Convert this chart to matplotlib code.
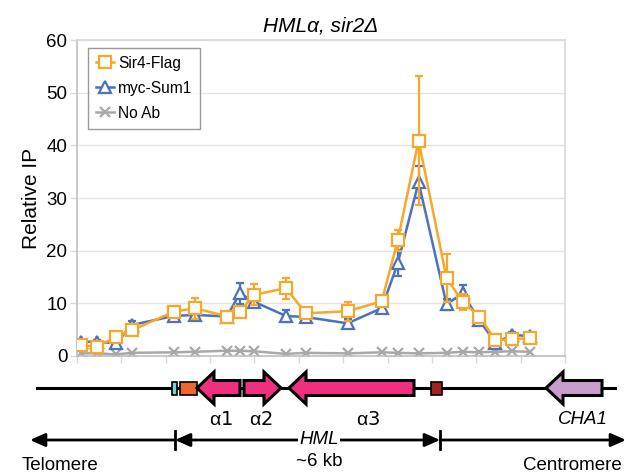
import matplotlib
matplotlib.use("Agg")
import matplotlib.pyplot as plt
from matplotlib.patches import Polygon, Rectangle
from matplotlib.lines import Line2D

plt.rcParams['font.family'] = ['Liberation Sans', 'DejaVu Sans']

# Probe positions along the locus (kb from the left end of the map)
positions = [0.09, 0.45, 0.88, 1.24, 2.18, 2.66, 3.38, 3.67, 3.99, 4.71, 5.16,
             6.10, 6.87, 7.23, 7.70, 8.33, 8.69, 9.07, 9.43, 9.81, 10.20]

sir4_flag = [2.0, 1.8, 3.6, 4.9, 8.4, 9.1, 7.5, 8.4, 11.6, 12.9, 8.1,
             8.5, 10.4, 22.0, 40.9, 14.8, 10.3, 7.5, 3.0, 3.2, 3.4]
sir4_err = [0.3, 0.3, 0.5, 0.5, 1.0, 2.0, 0.5, 0.5, 2.0, 2.0, 0.5,
            1.8, 1.0, 2.0, 12.3, 4.5, 1.5, 1.0, 0.5, 0.5, 0.5]

myc_sum1 = [2.7, 2.7, 2.4, 5.9, 7.6, 7.8, 7.5, 11.9, 10.3, 7.6, 7.4,
            6.2, 9.1, 17.6, 33.0, 9.8, 11.9, 6.8, 2.5, 4.0, 3.8]
sum1_err = [0.3, 0.3, 0.3, 0.8, 0.5, 0.5, 0.5, 2.0, 0.5, 1.2, 0.5,
            0.8, 0.5, 2.5, 3.0, 1.0, 1.5, 0.8, 0.5, 0.5, 0.5]

no_ab = [0.5, 0.5, 0.3, 0.6, 0.7, 0.8, 1.0, 1.0, 0.9, 0.4, 0.6,
         0.5, 0.7, 0.6, 0.5, 0.6, 0.8, 0.7, 0.8, 0.9, 0.8]

series_names = ['Sir4-Flag', 'myc-Sum1', 'No Ab']
colors = ['#F7A82A', '#4A72C0', '#A8A8A8']
markers = ['s', '^', 'x']

y_ticks = [0, 10, 20, 30, 40, 50, 60]
x_ticks = list(range(0, 12))

# Genetic map features (map coordinates in figure pixels)
genes = [
    # name, tail, tip, color
    ('α1', 240, 197, '#F0307F'),
    ('α2', 244, 281, '#F0307F'),
    ('α3', 414, 289, '#F0307F'),
    ('CHA1', 602, 546, '#C89CCB'),
]
gene_labels = [('α', '1', 221), ('α', '2', 261), ('α', '3', 368)]
boxes = [(172, 177, '#7FCFD0'), (180, 197, '#EE6630'), (431, 442, '#A52222')]

fig = plt.figure(figsize=(6.31, 4.74), dpi=100)
ax = fig.add_axes([77 / 631, 1 - 356 / 474, (565 - 77) / 631, (356 - 40) / 474])

grid_c = '#D9D9D9'
handles = []
for i, (name, vals, err) in enumerate(zip(series_names, [sir4_flag, myc_sum1, no_ab],
                                          [sir4_err, sum1_err, None])):
    c, m = colors[i], markers[i]
    style = dict(color=c, lw=1.8, marker=m, markersize=8 if m != 'x' else 7,
                 markerfacecolor='white' if m != 'x' else c,
                 markeredgewidth=1.6, markeredgecolor=c)
    ax.errorbar(positions, vals, yerr=err, capsize=3, elinewidth=1.6,
                capthick=1.6, zorder=3 - i, **style)
    handles.append(Line2D([], [], label=name, **style))

ax.set_xlim(0, 11)
ax.set_ylim(0, 60)
ax.set_yticks(y_ticks)
ax.set_xticks(x_ticks)
ax.set_xticklabels([])
ax.tick_params(axis='x', length=5, color=grid_c, width=1)
ax.tick_params(axis='y', length=5, color=grid_c, width=1, labelsize=13.5, pad=2)
ax.grid(axis='y', color='#E4E4E4', lw=1)
ax.set_axisbelow(True)
for s in ax.spines.values():
    s.set_color(grid_c)
    s.set_linewidth(1.2)
ax.spines['left'].set_color('#BFBFBF')
ax.spines['bottom'].set_color('#BFBFBF')
ax.set_ylabel('Relative IP', fontsize=15, labelpad=4)
ax.set_title('HMLα, sir2Δ', fontsize=15, pad=6, style='italic')

leg = ax.legend(handles=handles, loc='upper left', bbox_to_anchor=(0.022, 0.975),
                fontsize=11.2, frameon=True, fancybox=False, edgecolor='#808080',
                handlelength=1.2, handletextpad=0.25, borderpad=0.5, labelspacing=0.65,
                borderaxespad=0)
leg.get_frame().set_linewidth(1.0)

# Map panel in pixel coordinates
mx = fig.add_axes([0, 0, 1, 1], zorder=-1)
mx.set_xlim(0, 631)
mx.set_ylim(474, 0)
mx.axis('off')

line_y = 388
mx.plot([37, 615], [line_y, line_y], color='black', lw=2.2, zorder=1)

for lo, hi, c in boxes:
    mx.add_patch(Rectangle((lo, line_y - 6.5), hi - lo, 13, facecolor=c,
                           edgecolor='black', lw=1.2, zorder=2))

body, head, head_len = 7.5, 16, 17
for name, tail, tip, c in genes:
    d = 1 if tip > tail else -1
    neck = tip - d * head_len
    pts = [(tail, line_y - body), (neck, line_y - body), (neck, line_y - head),
           (tip, line_y), (neck, line_y + head), (neck, line_y + body), (tail, line_y + body)]
    mx.add_patch(Polygon(pts, closed=True, facecolor=c, edgecolor='black', lw=2.2,
                         joinstyle='miter', zorder=3))

for g, num, x in gene_labels:
    mx.text(x, 420, g + r'$\it{' + num + '}$', ha='center', va='center', fontsize=14)
mx.text(583, 420, 'CHA1', ha='center', va='center', fontsize=13.5, style='italic')

# Region scale bar
arr_y = 440
hml_lo, hml_hi = 175, 440
kw = dict(arrowstyle='-|>,head_length=0.9,head_width=0.4', color='black', lw=2,
          shrinkA=0, shrinkB=0)
mx.annotate('', xy=(30, arr_y), xytext=(hml_lo, arr_y), arrowprops=kw)
mx.annotate('', xy=(626, arr_y), xytext=(hml_hi, arr_y), arrowprops=kw)
mx.annotate('', xy=(hml_lo, arr_y), xytext=(300, arr_y), arrowprops=kw)
mx.annotate('', xy=(hml_hi, arr_y), xytext=(338, arr_y), arrowprops=kw)
for x in (hml_lo, hml_hi):
    mx.plot([x, x], [arr_y - 9, arr_y + 9], color='black', lw=2)
mx.text(319, arr_y, 'HML', ha='center', va='center', fontsize=13.5, style='italic',
        bbox=dict(facecolor='white', edgecolor='none', pad=1))
mx.text(319, 462, '~6 kb', ha='center', va='center', fontsize=13.5)
mx.text(60, 465, 'Telomere', ha='center', va='center', fontsize=13.5)
mx.text(572, 465, 'Centromere', ha='center', va='center', fontsize=13.5)

fig.savefig('out.png', dpi=100)
